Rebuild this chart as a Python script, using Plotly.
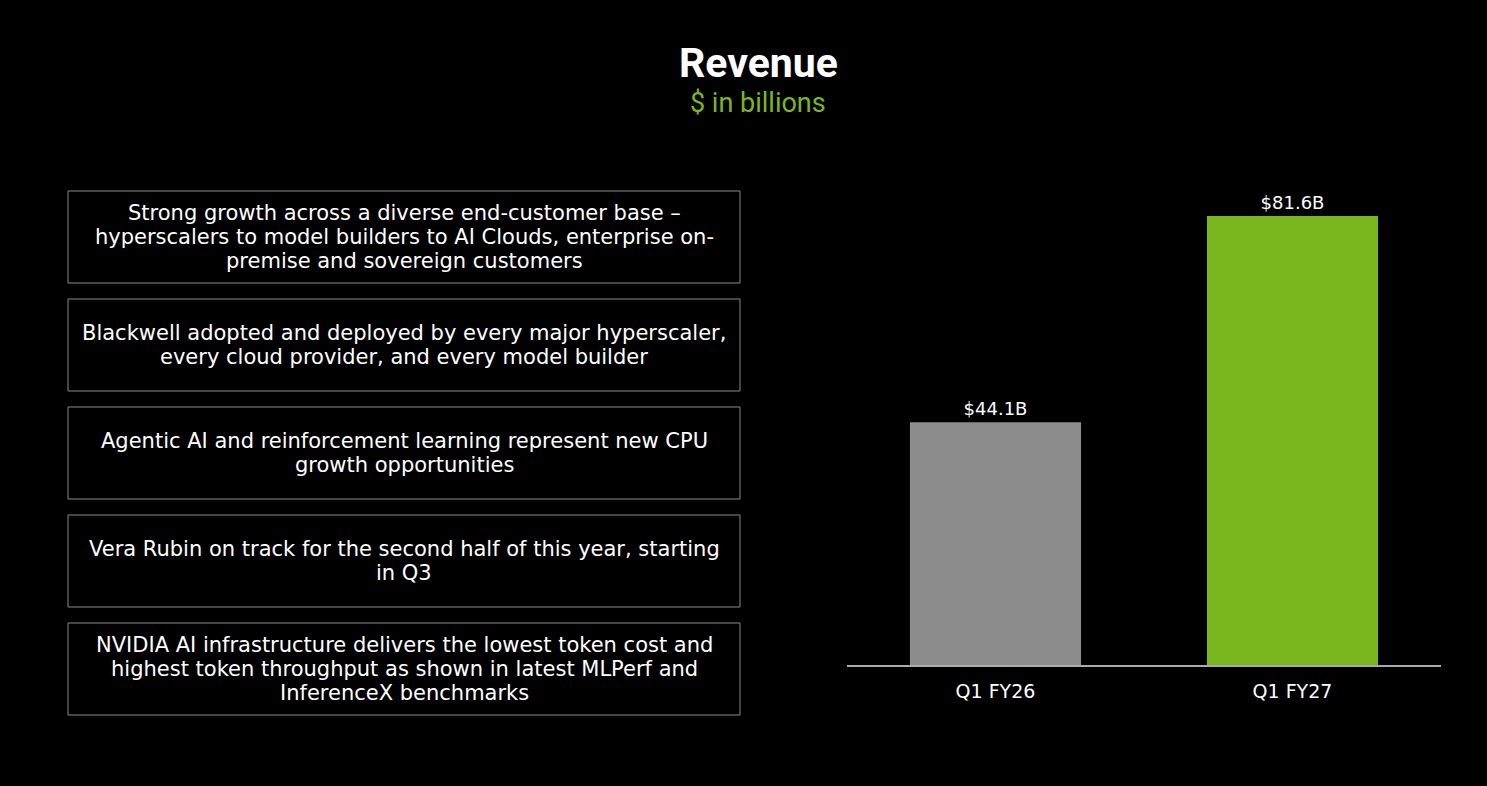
import plotly.graph_objects as go

categories = ["Q1 FY26", "Q1 FY27"]
revenue = [44.1, 81.6]
bar_labels = ["$44.1B", "$81.6B"]
bar_colors = ["#8c8c8c", "#7ab71f"]

bullets = [
    ["Strong growth across a diverse end-customer base –",
     "hyperscalers to model builders to AI Clouds, enterprise on-",
     "premise and sovereign customers"],
    ["Blackwell adopted and deployed by every major hyperscaler,",
     "every cloud provider, and every model builder"],
    ["Agentic AI and reinforcement learning represent new CPU",
     "growth opportunities"],
    ["Vera Rubin on track for the second half of this year, starting",
     "in Q3"],
    ["NVIDIA AI infrastructure delivers the lowest token cost and",
     "highest token throughput as shown in latest MLPerf and",
     "InferenceX benchmarks"],
]

W, H = 1487, 786
TFONT = "Roboto, 'Noto Sans', sans-serif"
BFONT = "'DejaVu Sans', sans-serif"

def px_x(x):
    return x / W

def px_y(y):
    return (H - y) / H

fig = go.Figure()
fig.add_trace(go.Bar(
    x=categories, y=revenue,
    marker=dict(color=bar_colors, line=dict(width=0)),
    width=0.576,
    text=bar_labels, textposition="outside",
    textfont=dict(color="white", size=18, family=BFONT),
    cliponaxis=False, hoverinfo="skip",
))

scale = (665 - 216) / 81.6
fig.update_layout(
    width=W, height=H,
    margin=dict(l=0, r=0, t=0, b=0),
    paper_bgcolor="black", plot_bgcolor="black",
    showlegend=False,
    xaxis=dict(domain=[px_x(847), px_x(1441)], range=[-0.5, 1.5],
               showline=True, linecolor="#aaaaaa", linewidth=2,
               showgrid=False, zeroline=False, ticks="",
               tickfont=dict(color="white", size=19, family=BFONT),
               ticklabelstandoff=8),
    yaxis=dict(domain=[px_y(665), px_y(150)], range=[0, (665 - 150) / scale],
               visible=False, showgrid=False, zeroline=False),
)

# Title
fig.add_annotation(text="<b>Revenue</b>", x=px_x(758), y=px_y(63), xref="paper", yref="paper",
                   showarrow=False, font=dict(color="white", size=41, family=TFONT),
                   xanchor="center", yanchor="middle")
fig.add_annotation(text="$ in billions", x=px_x(758), y=px_y(103), xref="paper", yref="paper",
                   showarrow=False, font=dict(color="#7ab71f", size=27, family=TFONT),
                   xanchor="center", yanchor="middle")

# Boxes
box_x0, box_x1 = 68, 740
line_gap = 24
for i, lines in enumerate(bullets):
    y0 = 191 + i * 108
    y1 = y0 + 92
    fig.add_shape(type="rect", xref="paper", yref="paper",
                  x0=px_x(box_x0), x1=px_x(box_x1), y0=px_y(y1), y1=px_y(y0),
                  line=dict(color="#8a8a8a", width=1), fillcolor="black", layer="below")
    yc = (y0 + y1) / 2
    n = len(lines)
    for j, ln in enumerate(lines):
        ly = yc + (j - (n - 1) / 2) * line_gap
        fig.add_annotation(text=ln, x=px_x((box_x0 + box_x1) / 2), y=px_y(ly),
                           xref="paper", yref="paper", showarrow=False, align="center",
                           font=dict(color="white", size=21, family=BFONT),
                           xanchor="center", yanchor="middle")

fig.write_html("out.html")
